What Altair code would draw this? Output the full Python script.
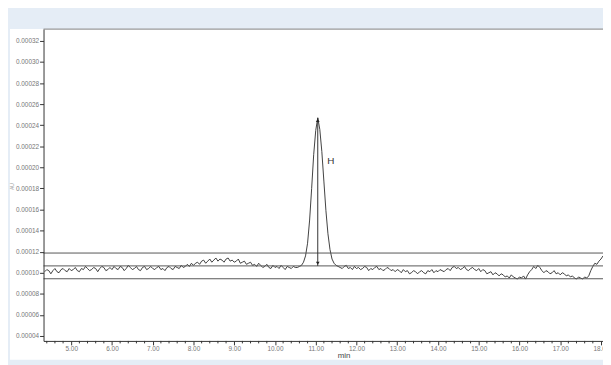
import altair as alt
import pandas as pd

# ---- data (signal values in units of 1e-5 AU, sampled every 0.05 min) ----
UNIT = 1e-5
STEP = 0.05

seg_starts = [4.35, 5.05, 6.05, 7.05, 8.05, 9.05, 10.05, 10.55, 11.65,
              12.05, 13.05, 14.05, 15.05, 16.05, 17.05]
seg_values = [
    [10.1, 10.3, 10.2, 9.9, 10.2, 10.4, 10.1, 10.0, 10.3, 10.4, 10.2, 10.1, 10.4, 10.2],
    [10.3, 10.5, 10.2, 10.1, 10.4, 10.3, 10.6, 10.4, 10.2, 10.3, 10.5, 10.4, 10.1, 10.4, 10.6, 10.5, 10.2, 10.3, 10.5, 10.3],
    [10.6, 10.4, 10.3, 10.6, 10.5, 10.2, 10.4, 10.7, 10.5, 10.3, 10.4, 10.6, 10.3, 10.2, 10.5, 10.6, 10.3, 10.4, 10.6, 10.4],
    [10.3, 10.5, 10.6, 10.3, 10.4, 10.2, 10.5, 10.6, 10.4, 10.3, 10.6, 10.5, 10.4, 10.7, 10.5, 10.6, 10.8, 10.6, 10.9, 10.7],
    [10.9, 11.0, 10.8, 11.1, 11.2, 10.9, 11.1, 11.3, 11.0, 11.2, 11.4, 11.1, 11.3, 11.2, 11.0, 11.3, 11.4, 11.1, 11.2, 11.0],
    [11.1, 11.3, 10.9, 11.0, 11.1, 10.8, 10.9, 11.0, 10.7, 10.8, 10.6, 10.9, 10.7, 10.5, 10.6, 10.8, 10.5, 10.4, 10.7, 10.5],
    [10.6, 10.4, 10.7, 10.5, 10.3, 10.6, 10.5, 10.4, 10.6, 10.5],
    [10.5, 10.6, 10.7, 11.0, 11.6, 12.8, 15.0, 18.0, 21.2, 23.5, 24.7, 23.6, 21.5, 18.7, 15.9, 13.7, 12.2, 11.3, 10.9, 10.7, 10.6, 10.5],
    [10.4, 10.6, 10.7, 10.4, 10.5, 10.3, 10.6, 10.4],
    [10.5, 10.3, 10.4, 10.6, 10.5, 10.2, 10.4, 10.3, 10.5, 10.6, 10.3, 10.4, 10.2, 10.3, 10.5, 10.4, 10.2, 10.3, 10.1, 10.3],
    [10.2, 10.0, 10.3, 10.1, 10.2, 9.9, 10.0, 10.2, 10.1, 9.9, 10.1, 10.2, 10.0, 9.9, 10.2, 10.1, 10.3, 10.0, 10.2, 10.1],
    [10.3, 10.2, 10.1, 10.3, 10.4, 10.2, 10.5, 10.6, 10.4, 10.5, 10.3, 10.4, 10.6, 10.3, 10.2, 10.4, 10.5, 10.3, 10.2, 10.4],
    [10.1, 10.3, 10.2, 9.9, 10.0, 10.1, 9.8, 10.0, 9.9, 9.7, 9.9, 9.8, 9.6, 9.7, 9.5, 9.8, 9.6, 9.5, 9.4, 9.6],
    [9.5, 9.7, 9.4, 9.8, 10.1, 10.3, 10.6, 10.4, 10.7, 10.5, 10.2, 10.0, 10.2, 10.1, 9.9, 10.0, 10.2, 9.9, 10.0, 9.8],
    [10.0, 9.9, 9.7, 9.8, 9.6, 9.7, 9.5, 9.4, 9.6, 9.5, 9.4, 9.6, 9.5, 9.7, 10.2, 10.6, 10.9, 10.8, 11.1, 11.3, 11.6],
]

# horizontal reference lines (1e-5 AU)
hline_levels = [11.87, 10.65, 9.43]

# peak height arrow
peak_time = 11.05
arrow_top = 24.7
arrow_bottom = 10.65
label_text = "H"
label_time = 11.37
label_value = 20.6

x_ticks = [5, 6, 7, 8, 9, 10, 11, 12, 13, 14, 15, 16, 17, 18]
y_ticks = [0.00004, 0.00006, 0.00008, 0.00010, 0.00012, 0.00014, 0.00016, 0.00018,
           0.00020, 0.00022, 0.00024, 0.00026, 0.00028, 0.00030, 0.00032]
minor_ticks = [round(i * 0.2, 1) for i in range(22, 91) if i % 5 != 0]

# ---- tables ----
times, vals = [], []
for s, seg in zip(seg_starts, seg_values):
    for i, v in enumerate(seg):
        times.append(round(s + i * STEP, 2))
        vals.append(v * UNIT)
trace = pd.DataFrame({"t": times, "v": vals})
hlines = pd.DataFrame({"v": [h * UNIT for h in hline_levels]})
arrow = pd.DataFrame({"t": [peak_time], "v": [arrow_bottom * UNIT], "v2": [arrow_top * UNIT]})
heads = pd.DataFrame({"t": [peak_time, peak_time],
                      "v": [(arrow_top - 0.25) * UNIT, (arrow_bottom + 0.25) * UNIT],
                      "shape": ["triangle-up", "triangle-down"]})
label = pd.DataFrame({"t": [label_time], "v": [label_value * UNIT], "txt": [label_text]})
minor = pd.DataFrame({"t": minor_ticks})
one = pd.DataFrame({"a": [0]})

W, H = 567, 316
FONT = "Liberation Sans"

xscale = alt.Scale(domain=[4.32, 18.05], nice=False, zero=False)
yscale = alt.Scale(domain=[3.53 * UNIT, 33.12 * UNIT], nice=False, zero=False)

AX = alt.Axis(
    values=x_ticks, format=".2f", grid=False, labelFontSize=6.5, labelColor="#777777",
    labelFont=FONT, tickSize=4, tickColor="#333333", domainColor="#333333",
    labelPadding=1, labelFlush=False, zindex=1,
    title="min", titleFont=FONT, titleFontSize=8, titleFontWeight="normal",
    titleColor="#444444", titleX=304, titleY=15, titleAlign="center",
    titleBaseline="middle")
AY = alt.Axis(
    values=y_ticks, format=".5f", grid=False, labelFontSize=6.5, labelColor="#777777",
    labelFont=FONT, tickSize=4, tickColor="#333333", domainColor="#333333",
    labelPadding=1, zindex=1,
    title="AU", titleFont=FONT, titleFontSize=5, titleFontWeight="normal",
    titleColor="#999999", titleX=-32, titleY=159, titleAngle=270,
    titleAlign="center", titleBaseline="middle")

X = alt.X("t:Q", scale=xscale, axis=AX)
Y = alt.Y("v:Q", scale=yscale, axis=AY)

panel = alt.Chart(one).mark_rect(color="white").encode(
    x=alt.value(-34), x2=alt.value(W + 40), y=alt.value(0), y2=alt.value(H + 19))
topline = alt.Chart(one).mark_rule(color="#9a9a9a", strokeWidth=1.2).encode(
    x=alt.value(0), x2=alt.value(W + 40), y=alt.value(0))

line = alt.Chart(trace).mark_line(color="#2b2b2b", strokeWidth=0.9, clip=True).encode(x=X, y=Y)

hl = alt.Chart(hlines).mark_rule(color="#555555", strokeWidth=1).encode(y=Y)

arr = alt.Chart(arrow).mark_rule(color="#333333", strokeWidth=1).encode(x=X, y=Y, y2="v2:Q")
hd = alt.Chart(heads).mark_point(filled=True, size=14, color="#222222", opacity=1).encode(
    x=X, y=Y, shape=alt.Shape("shape:N", scale=None))
txt = alt.Chart(label).mark_text(fontSize=10, font=FONT, fill="#333333").encode(
    x=X, y=Y, text="txt:N")
mt = alt.Chart(minor).mark_rule(color="#333333", strokeWidth=1).encode(
    x=X, y=alt.value(H), y2=alt.value(H + 2.5))

chart = alt.layer(panel, topline, line, hl, arr, hd, txt, mt).properties(
    width=W, height=H,
    autosize=alt.AutoSizeParams(type="none"),
    padding={"left": 36, "top": 19, "right": 0, "bottom": 22},
    background="#e5edf6",
).configure_view(strokeWidth=0)

chart.save("out.html", embed_options={"renderer": "svg", "actions": False})
